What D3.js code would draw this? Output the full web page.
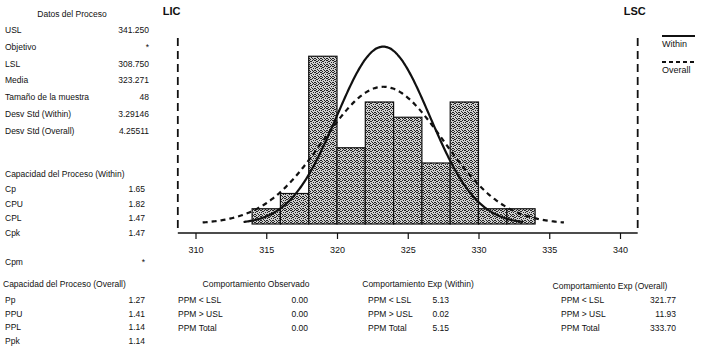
<!DOCTYPE html>
<html><head><meta charset="utf-8">
<script src="https://cdn.jsdelivr.net/npm/d3@7"></script>
<style>
body{margin:0;background:#fff}
svg{display:block}
text{font-family:"Liberation Sans",Arial,sans-serif;fill:#111}
</style>
</head><body>
<svg id="chart" width="704" height="354"></svg>
<script>
// Histogram bins (lower edges) and counts
const binStarts = [314, 316, 318, 320, 322, 324, 326, 328, 330, 332];
const binWidth = 2;
const counts = [1, 2, 11, 5, 8, 7, 4, 8, 1, 1];
const xTicks = [310, 315, 320, 325, 330, 335, 340];

// Process statistics
const lsl = 308.75, usl = 341.25;
const mean = 323.271, sdWithin = 3.29146, sdOverall = 4.25511, sampleSize = 48;

// Text tables
const processData = [["USL", "341.250"], ["Objetivo", "*"], ["LSL", "308.750"], ["Media", "323.271"],
  ["Tamaño de la muestra", "48"], ["Desv Std  (Within)", "3.29146"], ["Desv Std  (Overall)", "4.25511"]];
const withinCap = [["Cp", "1.65"], ["CPU", "1.82"], ["CPL", "1.47"], ["Cpk", "1.47"]];
const cpmRow = ["Cpm", "*"];
const overallCap = [["Pp", "1.27"], ["PPU", "1.41"], ["PPL", "1.14"], ["Ppk", "1.14"]];
const observed = [["PPM < LSL", "0.00"], ["PPM > USL", "0.00"], ["PPM Total", "0.00"]];
const expWithin = [["PPM < LSL", "5.13"], ["PPM > USL", "0.02"], ["PPM Total", "5.15"]];
const expOverall = [["PPM < LSL", "321.77"], ["PPM > USL", "11.93"], ["PPM Total", "333.70"]];

const svg = d3.select("#chart");

// speckled fill for the bars
const defs = svg.append("defs");
const pat = defs.append("pattern").attr("id", "speckle").attr("patternUnits", "userSpaceOnUse")
  .attr("width", 6).attr("height", 6);
pat.append("rect").attr("width", 6).attr("height", 6).attr("fill", "#cfcfcf");
[[0,0],[2,0],[4,1],[1,2],[3,2],[5,3],[0,4],[2,4],[4,5],[1,5],[3,0],[5,1],[3,4]].forEach(([a,b]) =>
  pat.append("rect").attr("x", a).attr("y", b).attr("width", 1).attr("height", 1).attr("fill", "#222"));

const x = d3.scaleLinear().domain([310, 340]).range([195.5, 620]);
const y = d3.scaleLinear().domain([0, 12]).range([224, 41]);
const axisY = 233;

// bars
svg.append("g").selectAll("rect").data(binStarts).join("rect")
  .attr("x", d => x(d))
  .attr("width", x(binWidth) - x(0))
  .attr("y", (d, i) => y(counts[i]))
  .attr("height", (d, i) => y(0) - y(counts[i]))
  .attr("fill", "url(#speckle)")
  .attr("stroke", "#111").attr("stroke-width", 1.2);

// fitted normal curves scaled to counts per bin
function normalCurve(sd) {
  const pts = d3.range(mean - 3 * sd, mean + 3 * sd + 1e-9, sd / 40);
  return pts.map(v => [v, sampleSize * binWidth * Math.exp(-0.5 * ((v - mean) / sd) ** 2) / (sd * Math.sqrt(2 * Math.PI))]);
}
const line = d3.line().x(d => x(d[0])).y(d => y(d[1])).curve(d3.curveBasis);
svg.append("path").attr("d", line(normalCurve(sdOverall))).attr("fill", "none")
  .attr("stroke", "#111").attr("stroke-width", 2.2).attr("stroke-dasharray", "5,4");
svg.append("path").attr("d", line(normalCurve(sdWithin))).attr("fill", "none")
  .attr("stroke", "#111").attr("stroke-width", 2.2);

// axis
const axis = svg.append("g").attr("transform", `translate(0,${axisY})`)
  .call(d3.axisBottom(x).tickValues(xTicks).tickSize(6).tickPadding(8));
axis.select(".domain").remove();
axis.selectAll(".tick line").attr("stroke", "#111").attr("stroke-width", 1.2);
axis.selectAll(".tick text").attr("font-size", 9).attr("font-family", "Liberation Sans, Arial, sans-serif").attr("fill", "#222");
svg.append("line").attr("x1", x(lsl)).attr("x2", x(usl)).attr("y1", axisY).attr("y2", axisY)
  .attr("stroke", "#111").attr("stroke-width", 1.5);

// specification limits
[lsl, usl].forEach(v => svg.append("line").attr("x1", x(v)).attr("x2", x(v)).attr("y1", 38).attr("y2", axisY)
  .attr("stroke", "#111").attr("stroke-width", 1.8).attr("stroke-dasharray", "8,5"));
svg.append("text").attr("x", x(lsl) - 15).attr("y", 15).attr("font-size", 11).attr("font-weight", "bold").text("LIC");
svg.append("text").attr("x", x(usl) - 14).attr("y", 15).attr("font-size", 11).attr("font-weight", "bold").text("LSC");

// legend
svg.append("line").attr("x1", 662).attr("x2", 695).attr("y1", 36).attr("y2", 36).attr("stroke", "#111").attr("stroke-width", 1.8);
svg.append("text").attr("x", 662).attr("y", 47).attr("font-size", 9).text("Within");
svg.append("line").attr("x1", 662).attr("x2", 695).attr("y1", 62).attr("y2", 62).attr("stroke", "#111").attr("stroke-width", 1.8).attr("stroke-dasharray", "4,3");
svg.append("text").attr("x", 662).attr("y", 73).attr("font-size", 9).text("Overall");

// text tables
function table(rows, lx, vx, y0, step) {
  const g = svg.append("g");
  rows.forEach((r, i) => {
    g.append("text").attr("x", lx).attr("y", y0 + i * step).attr("font-size", 8.5).text(r[0]);
    g.append("text").attr("x", vx).attr("y", y0 + i * step).attr("font-size", 8.5).attr("text-anchor", "end").text(r[1]);
  });
}
function header(txt, cx, yy, anchor) {
  svg.append("text").attr("x", cx).attr("y", yy).attr("font-size", 8.5).attr("text-anchor", anchor || "middle").text(txt);
}

header("Datos del Proceso", 72, 17);
table(processData, 5, 149, 33, 16.8);
header("Capacidad del Proceso (Within)", 5, 177, "start");
table(withinCap, 5, 145, 192, 14.7);
table([cpmRow], 5, 145, 265, 0);
header("Capacidad del Proceso (Overall)", 3, 287, "start");
table(overallCap, 5, 145, 303, 13.5);

header("Comportamiento Observado", 256, 287);
table(observed, 178, 308, 303, 14);
header("Comportamiento Exp  (Within)", 418, 287);
table(expWithin, 368, 449, 303, 14);
header("Comportamiento Exp  (Overall)", 610, 289);
table(expOverall, 561, 676, 303, 14);
</script>
</body></html>
